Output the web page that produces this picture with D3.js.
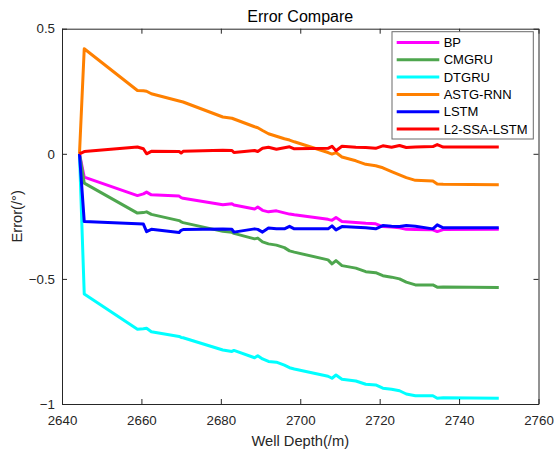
<!DOCTYPE html>
<html>
<head>
<meta charset="utf-8">
<script src="https://cdn.jsdelivr.net/npm/d3@7/dist/d3.min.js"></script>
<style>
  html, body { margin: 0; padding: 0; background: #fff; }
  svg { display: block; font-family: Arial, "Liberation Sans", sans-serif; }
</style>
</head>
<body>
<div id="chart"></div>
<script>
// Well depth samples (m)
const depth = [2644.4, 2645.6, 2659, 2660.5, 2661.3, 2662.5, 2669.5, 2670, 2670.5, 2680.5,
  2682.8, 2683.3, 2688.5, 2689.3, 2690.5, 2692, 2694, 2696, 2697.3, 2698.5,
  2707, 2708, 2709, 2710.5, 2714, 2716.5, 2719, 2720.8, 2723, 2725,
  2726.7, 2729, 2733.4, 2734.5, 2736, 2750];

// Error of each model (degrees)
const bp = [0, -0.093, -0.167, -0.16, -0.153, -0.164, -0.169, -0.175, -0.178, -0.204,
  -0.2, -0.205, -0.221, -0.213, -0.226, -0.232, -0.228, -0.236, -0.241, -0.244,
  -0.262, -0.266, -0.255, -0.271, -0.275, -0.278, -0.28, -0.291, -0.293, -0.296,
  -0.302, -0.303, -0.304, -0.311, -0.303, -0.302];
const cmgru = [0, -0.117, -0.237, -0.235, -0.232, -0.242, -0.267, -0.272, -0.275, -0.31,
  -0.314, -0.318, -0.34, -0.337, -0.352, -0.36, -0.365, -0.375, -0.388, -0.393,
  -0.424, -0.44, -0.427, -0.447, -0.457, -0.471, -0.475, -0.487, -0.493, -0.5,
  -0.513, -0.524, -0.524, -0.533, -0.532, -0.534];
const dtgru = [0, -0.56, -0.701, -0.699, -0.697, -0.711, -0.73, -0.734, -0.735, -0.784,
  -0.79, -0.786, -0.815, -0.807, -0.82, -0.83, -0.833, -0.845, -0.855, -0.86,
  -0.889, -0.897, -0.884, -0.901, -0.908, -0.921, -0.924, -0.937, -0.941, -0.947,
  -0.96, -0.967, -0.967, -0.977, -0.975, -0.977];
const astgRnn = [0, 0.42, 0.253, 0.252, 0.25, 0.24, 0.211, 0.209, 0.207, 0.147,
  0.142, 0.139, 0.108, 0.104, 0.093, 0.08, 0.07, 0.06, 0.055, 0.048,
  0.005, -0.001, 0.005, -0.013, -0.028, -0.042, -0.048, -0.056, -0.071, -0.084,
  -0.095, -0.106, -0.109, -0.121, -0.122, -0.124];
const lstm = [0, -0.271, -0.28, -0.281, -0.311, -0.302, -0.315, -0.306, -0.303, -0.301,
  -0.302, -0.313, -0.3, -0.302, -0.313, -0.297, -0.3, -0.3, -0.29, -0.3,
  -0.3, -0.288, -0.304, -0.291, -0.294, -0.296, -0.3, -0.287, -0.29, -0.291,
  -0.287, -0.29, -0.3, -0.284, -0.296, -0.296];
const l2SsaLstm = [0, 0.009, 0.027, 0.02, 0.0, 0.01, 0.009, 0.003, 0.01, 0.014,
  0.013, 0.005, 0.013, 0.009, 0.022, 0.026, 0.018, 0.024, 0.028, 0.02,
  0.022, 0.03, 0.012, 0.03, 0.026, 0.025, 0.022, 0.032, 0.026, 0.033,
  0.025, 0.027, 0.029, 0.037, 0.027, 0.027];

const seriesNames = ["BP", "CMGRU", "DTGRU", "ASTG-RNN", "LSTM", "L2-SSA-LSTM"];
const seriesValues = [bp, cmgru, dtgru, astgRnn, lstm, l2SsaLstm];
const seriesColors = ["#ff00ff", "#4ea64e", "#00ffff", "#ff8000", "#0000ff", "#ff0000"];

const xTicks = [2640, 2660, 2680, 2700, 2720, 2740, 2760];
const yTicks = [-1, -0.5, 0, 0.5];

const W = 556, H = 455;
const plotL = 62, plotR = 538.5, plotT = 28.7, plotB = 404;
const axisColor = "#262626";

const svg = d3.select("#chart").append("svg")
  .attr("width", W).attr("height", H);

const x = d3.scaleLinear().domain([2640, 2760]).range([plotL, plotR]);
const y = d3.scaleLinear().domain([-1, 0.5]).range([plotB, plotT]);

// Series lines
const line = d3.line()
  .x((d, i) => x(depth[i]))
  .y(d => y(d));

svg.append("g").selectAll("path")
  .data(seriesValues)
  .join("path")
  .attr("d", d => line(d))
  .attr("fill", "none")
  .attr("stroke", (d, i) => seriesColors[i])
  .attr("stroke-width", 3)
  .attr("stroke-linejoin", "round")
  .attr("stroke-linecap", "butt");

// Axes with inward ticks (box style)
function styleAxis(g) {
  g.select(".domain").attr("stroke", axisColor).attr("stroke-width", 1);
  g.selectAll(".tick line").attr("stroke", axisColor);
  g.selectAll(".tick text").attr("fill", axisColor).attr("font-size", "13.3px")
    .attr("font-family", "Arial, 'Liberation Sans', sans-serif");
}

svg.append("g")
  .attr("transform", `translate(0,${plotB})`)
  .call(d3.axisBottom(x).tickValues(xTicks).tickFormat(d3.format("d"))
    .tickSizeInner(-5).tickSizeOuter(0).tickPadding(12))
  .call(styleAxis);

svg.append("g")
  .attr("transform", `translate(0,${plotT})`)
  .call(d3.axisTop(x).tickValues(xTicks).tickFormat("")
    .tickSizeInner(-5).tickSizeOuter(0))
  .call(styleAxis);

svg.append("g")
  .attr("transform", `translate(${plotL},0)`)
  .call(d3.axisLeft(y).tickValues(yTicks).tickFormat(d => d3.format("")(d))
    .tickSizeInner(-5).tickSizeOuter(0).tickPadding(7))
  .call(styleAxis);

svg.append("g")
  .attr("transform", `translate(${plotR},0)`)
  .call(d3.axisRight(y).tickValues(yTicks).tickFormat("")
    .tickSizeInner(-5).tickSizeOuter(0))
  .call(styleAxis);

// Title and axis labels
svg.append("text")
  .attr("x", (plotL + plotR) / 2).attr("y", 21.5)
  .attr("text-anchor", "middle")
  .attr("font-size", "16px").attr("fill", "#000")
  .text("Error Compare");

svg.append("text")
  .attr("x", (plotL + plotR) / 2).attr("y", 446)
  .attr("text-anchor", "middle")
  .attr("font-size", "14.7px").attr("fill", axisColor)
  .text("Well Depth(/m)");

svg.append("text")
  .attr("transform", `translate(22,${(plotT + plotB) / 2}) rotate(-90)`)
  .attr("text-anchor", "middle")
  .attr("font-size", "14.7px").attr("fill", axisColor)
  .text("Error(/°)");

// Legend
const lg = svg.append("g");
lg.append("rect")
  .attr("x", 392).attr("y", 31.7)
  .attr("width", 141.3).attr("height", 107.3)
  .attr("fill", "#fff").attr("stroke", "#6a6a6a").attr("stroke-width", 1);

const rows = lg.selectAll("g.row")
  .data(seriesNames)
  .join("g")
  .attr("class", "row")
  .attr("transform", (d, i) => `translate(0,${42.5 + i * 17.3})`);

rows.append("line")
  .attr("x1", 396.7).attr("x2", 439.3)
  .attr("y1", 0).attr("y2", 0)
  .attr("stroke", (d, i) => seriesColors[i])
  .attr("stroke-width", 3);

rows.append("text")
  .attr("x", 443.7).attr("y", 0).attr("dy", "0.36em")
  .attr("font-size", "13px").attr("fill", "#000")
  .text(d => d);
</script>
</body>
</html>
